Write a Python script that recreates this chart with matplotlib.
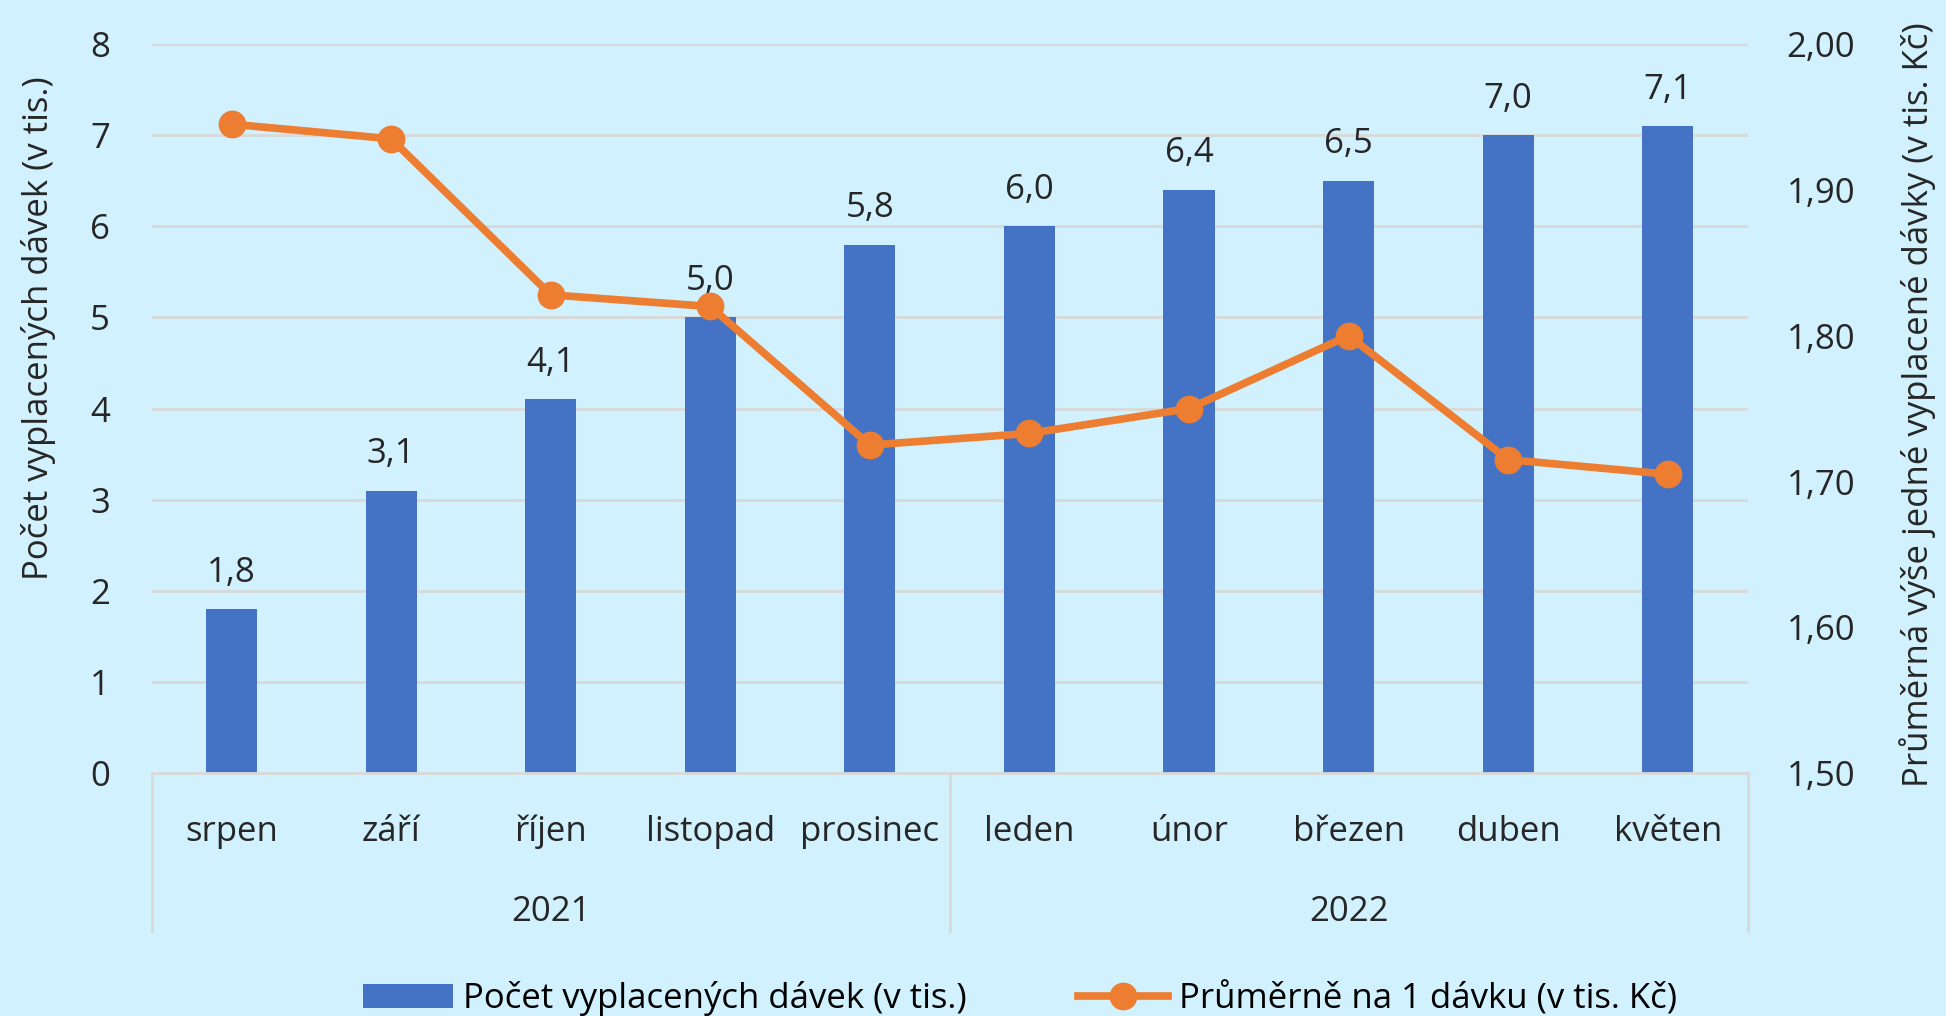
import matplotlib.pyplot as plt
import matplotlib.transforms as mtransforms


MESICE = ["srpen", "září", "říjen", "listopad", "prosinec",
          "leden", "únor", "březen", "duben", "květen"]
ROKY = ["2021", "2022"]
POCET_DAVEK = [1.8, 3.1, 4.1, 5.0, 5.8, 6.0, 6.4, 6.5, 7.0, 7.1]
PRUMER_NA_DAVKU = [1.945, 1.935, 1.828, 1.820, 1.725, 1.733, 1.750, 1.800, 1.715, 1.705]

POZADI = "#d0f1fd"
MODRA = "#4472c4"
ORANZOVA = "#ed7d31"
MRIZKA = "#d9d9d9"

plt.rcParams["font.family"] = ["Open Sans", "DejaVu Sans"]
plt.rcParams["font.size"] = 25


def cislo(v, mista):
    return f"{v:.{mista}f}".replace(".", ",")


fig = plt.figure(figsize=(19.46, 10.16), dpi=100, facecolor=POZADI)
ax = fig.add_axes([0.078, 0.239, 0.82, 0.7177])
ax.set_facecolor(POZADI)
ax2 = ax.twinx()

x = list(range(len(MESICE)))
ax.bar(x, POCET_DAVEK, width=0.32, color=MODRA, zorder=2,
       label="Počet vyplacených dávek (v tis.)")
for xi, v in zip(x, POCET_DAVEK):
    ax.annotate(cislo(v, 1), (xi, v), xytext=(0, 14), textcoords="offset points",
                ha="center", va="bottom", fontsize=25, color="#262626")

ax.set_xlim(-0.5, len(MESICE) - 0.5)
ax.set_ylim(0, 8)
ax.set_yticks(range(0, 9))
ax.yaxis.grid(True, color=MRIZKA, linewidth=2)
ax.set_axisbelow(True)
ax.tick_params(axis="both", length=0, labelcolor="#262626")
ax.tick_params(axis="y", pad=30)
ax.set_xticks(x)
ax.set_xticklabels(MESICE)
ax.tick_params(axis="x", pad=30)
for s in ["top", "right", "left"]:
    ax.spines[s].set_visible(False)
ax.spines["bottom"].set_color(MRIZKA)
ax.spines["bottom"].set_linewidth(2)
ax.set_ylabel("Počet vyplacených dávek (v tis.)", fontsize=25, color="#262626")
ax.yaxis.set_label_coords(-0.06, 0.61)

ax2.plot(x, PRUMER_NA_DAVKU, color=ORANZOVA, linewidth=5.5, marker="o",
         markersize=19, zorder=3, label="Průměrně na 1 dávku (v tis. Kč)")
ax2.set_ylim(1.5, 2.0)
ax2.set_yticks([1.5, 1.6, 1.7, 1.8, 1.9, 2.0])
ax2.set_yticklabels([cislo(v, 2) for v in [1.5, 1.6, 1.7, 1.8, 1.9, 2.0]])
ax2.tick_params(axis="y", length=0, pad=28, labelcolor="#262626")
for s in ["top", "right", "left", "bottom"]:
    ax2.spines[s].set_visible(False)
ax2.set_ylabel("Průměrná výše jedné vyplacené dávky (v tis. Kč)", fontsize=25,
               color="#262626")
ax2.yaxis.set_label_coords(1.095, 0.505)

# skupinova osa s roky
trans = mtransforms.blended_transform_factory(ax.transData, ax.transAxes)
dno = -0.217
for xv in [-0.5, 4.5, 9.5]:
    ax.plot([xv, xv], [0, dno], transform=trans, color=MRIZKA, linewidth=2, clip_on=False)
ax.text(2, -0.19, ROKY[0], transform=trans, ha="center", va="center", color="#262626")
ax.text(7, -0.19, ROKY[1], transform=trans, ha="center", va="center", color="#262626")

h1, l1 = ax.get_legend_handles_labels()
h2, l2 = ax2.get_legend_handles_labels()
fig.legend(h1 + h2, l1 + l2, loc="center", bbox_to_anchor=(0.524, 0.017), ncol=2,
           frameon=False, handlelength=2.6, columnspacing=3.2, handletextpad=0.3,
           fontsize=25)

fig.savefig("out.png", dpi=100, facecolor=POZADI)
